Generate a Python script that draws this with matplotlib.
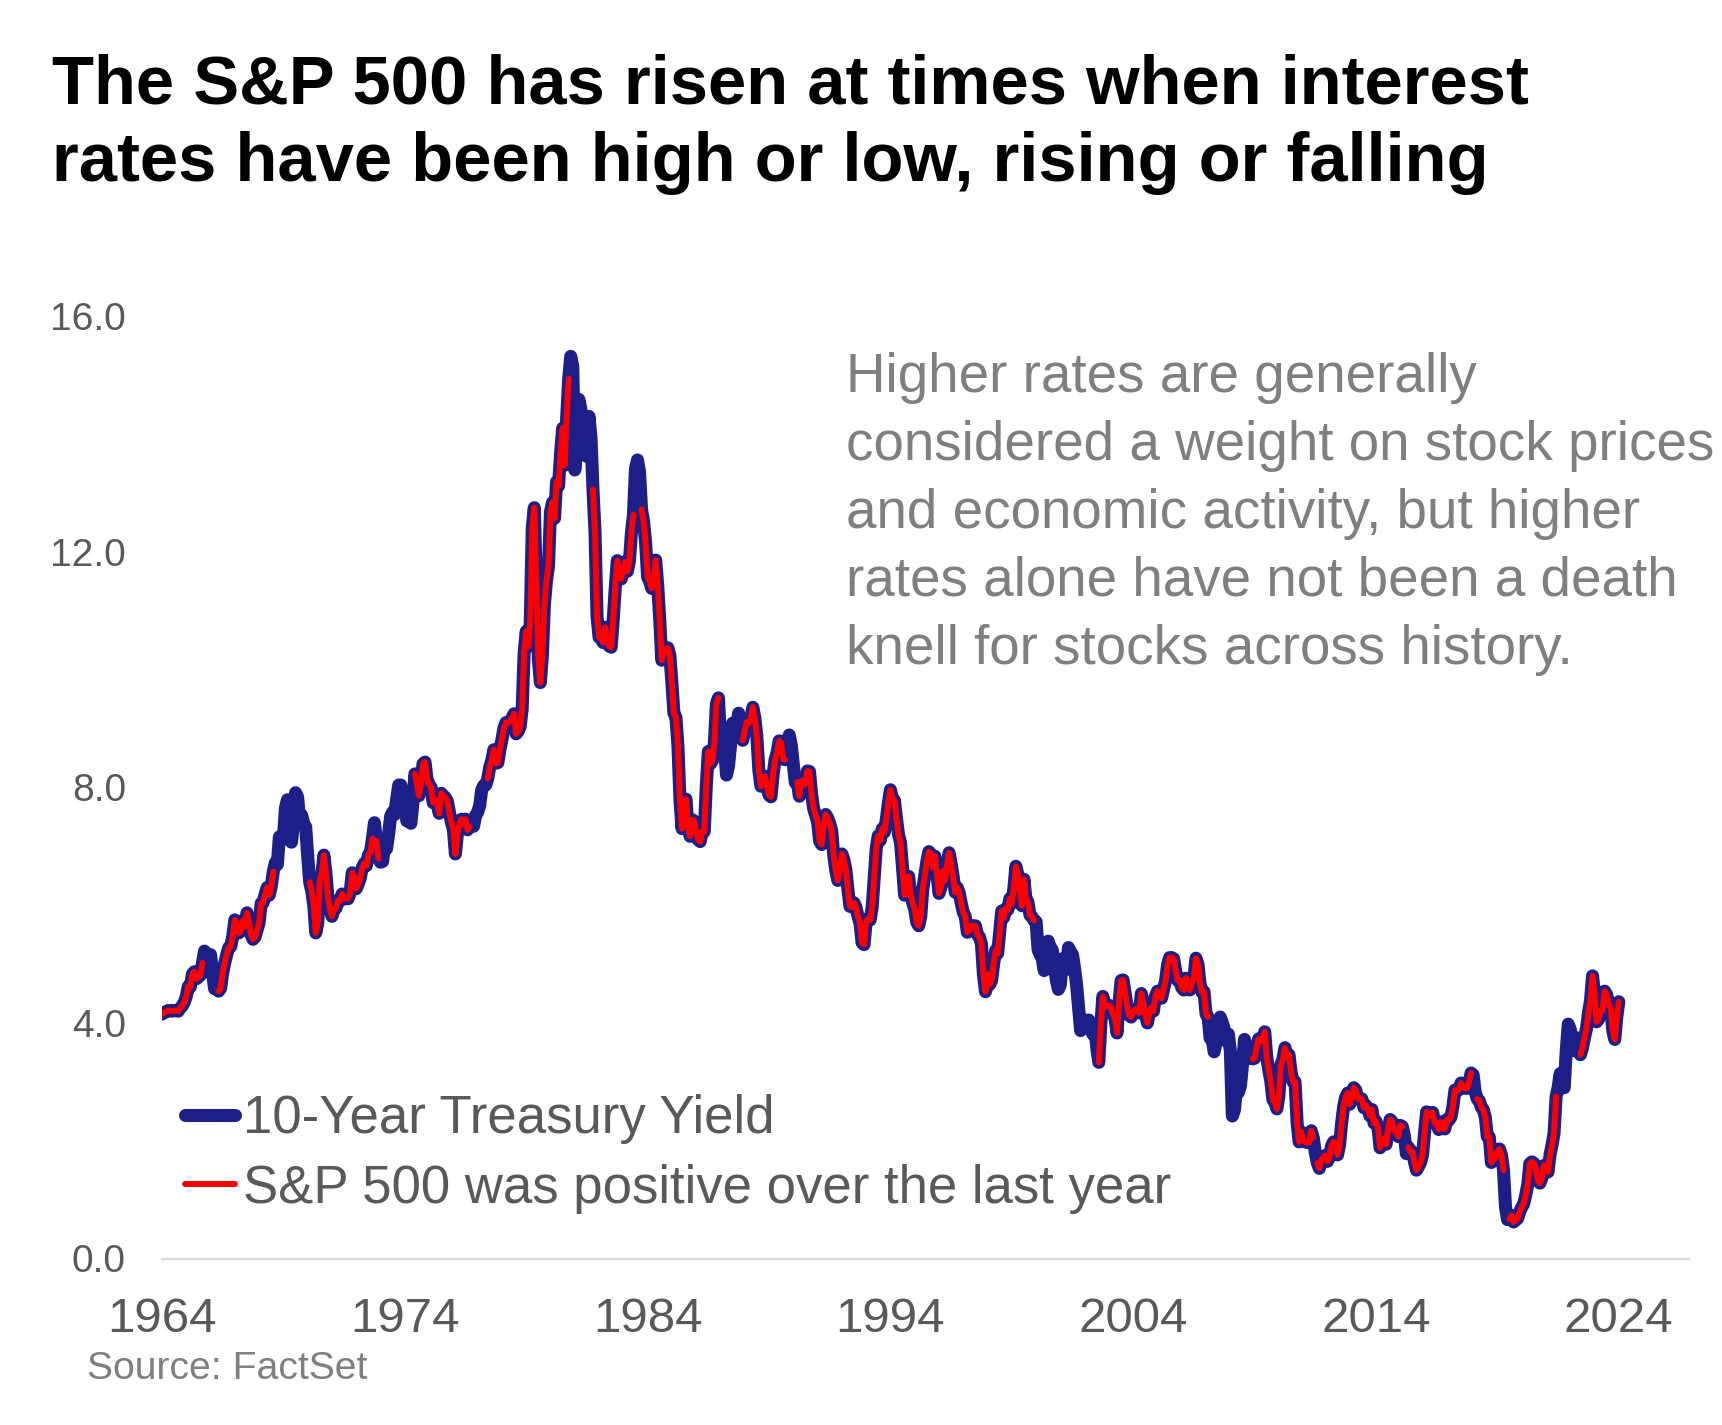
import numpy as np
import pandas as pd
import matplotlib
matplotlib.use("Agg")
import matplotlib.pyplot as plt

plt.rcParams['font.family'] = ['Liberation Sans', 'DejaVu Sans']

# ---------------- data ----------------
title_lines = ["The S&P 500 has risen at times when interest",
               "rates have been high or low, rising or falling"]
note_lines = ["Higher rates are generally",
              "considered a weight on stock prices",
              "and economic activity, but higher",
              "rates alone have not been a death",
              "knell for stocks across history."]
source_text = "Source: FactSet"
series_names = ["10-Year Treasury Yield", "S&P 500 was positive over the last year"]

first_month = "1964-01"          # first monthly point on the chart's axis
treasury_yield = [
    4.15, 4.18,
    4.19, 4.21, 4.21, 4.20, 4.21, 4.21, 4.20, 4.25, 4.29, 4.35, 4.45, 4.62,
    4.61, 4.83, 4.87, 4.75, 4.78, 4.81, 5.02, 5.22, 5.18, 5.01, 5.16, 4.84,
    4.58, 4.63, 4.54, 4.59, 4.85, 5.02, 5.16, 5.28, 5.30, 5.48, 5.75, 5.70,
    5.53, 5.56, 5.74, 5.64, 5.87, 5.72, 5.50, 5.42, 5.46, 5.58, 5.70, 6.03,
    6.04, 6.19, 6.30, 6.17, 6.32, 6.57, 6.72, 6.69, 7.16, 7.10, 7.14, 7.65,
    7.79, 7.24, 7.07, 7.39, 7.91, 7.84, 7.46, 7.53, 7.39, 7.33, 6.84, 6.39,
    6.24, 6.00, 5.53, 5.70, 6.43, 6.53, 6.85, 6.55, 6.14, 5.93, 5.81, 5.93,
    5.95, 6.08, 6.07, 6.19, 6.13, 6.11, 6.11, 6.21, 6.55, 6.48, 6.28, 6.36,
    6.46, 6.64, 6.71, 6.67, 6.85, 6.90, 7.13, 7.40, 7.09, 6.79, 6.73, 6.74,
    6.99, 6.96, 7.21, 7.51, 7.58, 7.54, 7.81, 8.04, 8.04, 7.90, 7.68, 7.43,
    7.50, 7.39, 7.73, 8.23, 8.06, 7.86, 8.06, 8.40, 8.43, 8.14, 8.05, 8.00,
    7.74, 7.79, 7.73, 7.56, 7.90, 7.86, 7.83, 7.77, 7.59, 7.41, 7.29, 6.87,
    7.21, 7.39, 7.46, 7.37, 7.46, 7.28, 7.33, 7.40, 7.34, 7.52, 7.58, 7.69,
    7.96, 8.03, 8.04, 8.15, 8.35, 8.46, 8.64, 8.41, 8.42, 8.64, 8.81, 9.01,
    9.10, 9.10, 9.12, 9.18, 9.25, 8.91, 8.95, 9.03, 9.33, 10.30, 10.65, 10.39,
    10.80, 12.41, 12.75, 11.47, 10.18, 9.78, 10.25, 11.10, 11.51, 11.75, 12.68, 12.84,
    12.57, 13.19, 13.12, 13.68, 14.10, 13.47, 14.28, 14.94, 15.32, 15.15, 13.39, 13.72,
    14.59, 14.43, 13.86, 13.87, 13.62, 14.30, 13.95, 13.06, 12.34, 10.91, 10.55, 10.54,
    10.46, 10.72, 10.51, 10.40, 10.38, 10.85, 11.38, 11.85, 11.65, 11.54, 11.69, 11.83,
    11.67, 11.84, 12.32, 12.63, 13.41, 13.56, 13.36, 12.72, 12.52, 12.16, 11.57, 11.50,
    11.38, 11.51, 11.86, 11.43, 10.85, 10.16, 10.31, 10.33, 10.37, 10.24, 9.78, 9.26,
    9.19, 8.70, 7.78, 7.30, 7.71, 7.80, 7.30, 7.17, 7.45, 7.43, 7.25, 7.11,
    7.08, 7.25, 7.25, 8.02, 8.61, 8.40, 8.45, 8.76, 9.42, 9.52, 8.86, 8.99,
    8.67, 8.21, 8.37, 8.72, 9.09, 8.92, 9.06, 9.26, 8.98, 8.80, 8.96, 9.11,
    9.09, 9.17, 9.36, 9.18, 8.86, 8.28, 8.02, 8.11, 8.19, 8.01, 7.87, 7.84,
    8.21, 8.47, 8.59, 8.79, 8.76, 8.48, 8.47, 8.75, 8.89, 8.72, 8.39, 8.08,
    8.09, 7.85, 8.11, 8.04, 8.07, 8.28, 8.27, 7.90, 7.65, 7.53, 7.42, 7.09,
    7.03, 7.34, 7.54, 7.48, 7.39, 7.26, 6.84, 6.59, 6.42, 6.59, 6.87, 6.77,
    6.60, 6.26, 5.98, 5.97, 6.04, 5.96, 5.81, 5.68, 5.36, 5.33, 5.72, 5.77,
    5.75, 5.97, 6.48, 6.97, 7.18, 7.10, 7.30, 7.24, 7.46, 7.74, 7.96, 7.81,
    7.78, 7.47, 7.20, 7.06, 6.63, 6.17, 6.28, 6.49, 6.20, 6.04, 5.93, 5.71,
    5.65, 5.81, 6.27, 6.51, 6.74, 6.91, 6.87, 6.64, 6.83, 6.53, 6.20, 6.30,
    6.58, 6.42, 6.69, 6.89, 6.71, 6.49, 6.22, 6.30, 6.21, 6.03, 5.88, 5.81,
    5.54, 5.57, 5.65, 5.64, 5.65, 5.50, 5.46, 5.34, 4.81, 4.53, 4.83, 4.65,
    4.72, 5.00, 5.23, 5.18, 5.54, 5.90, 5.79, 5.94, 5.92, 6.11, 6.03, 6.28,
    6.66, 6.52, 6.26, 5.99, 6.44, 6.10, 6.05, 5.83, 5.80, 5.74, 5.72, 5.24,
    5.16, 5.10, 4.89, 5.14, 5.39, 5.28, 5.24, 4.97, 4.73, 4.57, 4.65, 5.09,
    5.04, 4.91, 5.28, 5.21, 5.16, 4.93, 4.65, 4.26, 3.87, 3.94, 4.05, 4.03,
    4.05, 3.90, 3.81, 3.96, 3.57, 3.33, 3.98, 4.45, 4.27, 4.29, 4.30, 4.27,
    4.15, 4.08, 3.83, 4.35, 4.72, 4.73, 4.50, 4.28, 4.13, 4.10, 4.19, 4.23,
    4.22, 4.17, 4.50, 4.34, 4.14, 4.00, 4.18, 4.26, 4.20, 4.46, 4.54, 4.47,
    4.42, 4.57, 4.72, 4.99, 5.11, 5.11, 5.09, 4.88, 4.72, 4.73, 4.60, 4.56,
    4.76, 4.72, 4.56, 4.69, 4.75, 5.10, 5.00, 4.67, 4.52, 4.53, 4.15, 4.10,
    3.74, 3.74, 3.51, 3.68, 3.88, 4.10, 4.01, 3.89, 3.69, 3.81, 3.53, 2.42,
    2.52, 2.87, 2.82, 2.93, 3.29, 3.72, 3.56, 3.59, 3.40, 3.39, 3.40, 3.59,
    3.73, 3.69, 3.73, 3.85, 3.42, 3.20, 3.01, 2.70, 2.65, 2.54, 2.76, 3.29,
    3.39, 3.58, 3.41, 3.46, 3.17, 3.00, 3.00, 2.30, 1.98, 2.15, 2.01, 1.98,
    1.97, 1.97, 2.17, 2.05, 1.80, 1.62, 1.53, 1.68, 1.72, 1.75, 1.65, 1.72,
    1.91, 1.98, 1.96, 1.76, 1.93, 2.30, 2.58, 2.74, 2.81, 2.62, 2.72, 2.90,
    2.86, 2.71, 2.72, 2.71, 2.56, 2.60, 2.54, 2.42, 2.53, 2.30, 2.33, 2.21,
    1.88, 1.98, 2.04, 1.94, 2.20, 2.36, 2.32, 2.17, 2.17, 2.07, 2.26, 2.24,
    2.09, 1.78, 1.89, 1.81, 1.81, 1.64, 1.50, 1.56, 1.63, 1.76, 2.14, 2.49,
    2.43, 2.42, 2.48, 2.30, 2.30, 2.19, 2.32, 2.21, 2.20, 2.36, 2.35, 2.40,
    2.58, 2.86, 2.84, 2.87, 2.98, 2.91, 2.89, 2.89, 3.00, 3.15, 3.12, 2.83,
    2.71, 2.68, 2.57, 2.53, 2.40, 2.07, 2.06, 1.63, 1.70, 1.71, 1.81, 1.86,
    1.76, 1.50, 0.87, 0.66, 0.67, 0.73, 0.62, 0.65, 0.68, 0.79, 0.87, 0.93,
    1.08, 1.26, 1.61, 1.64, 1.62, 1.52, 1.32, 1.28, 1.37, 1.58, 1.56, 1.47,
    1.76, 1.93, 2.13, 2.75, 2.90, 3.14, 2.90, 2.90, 3.52, 3.98, 3.89, 3.62,
    3.53, 3.75, 3.66, 3.46, 3.57, 3.75, 3.90, 4.17, 4.38, 4.80, 4.50, 4.02,
    4.06, 4.21, 4.21, 4.54, 4.48, 4.31, 4.25, 3.87, 3.72, 4.10, 4.36,
]

# months (on the chart's axis) in which the S&P 500 was NOT up over the last year
sp500_down_periods = [
    ("1965-10", "1966-04"), ("1968-09", "1970-01"), ("1972-10", "1972-10"),
    ("1973-01", "1974-05"), ("1976-10", "1977-05"), ("1980-11", "1981-09"),
    ("1983-07", "1983-09"), ("1987-01", "1987-11"), ("1989-10", "1990-02"),
    ("2000-01", "2002-07"), ("2007-03", "2008-11"), ("2011-07", "2011-07"),
    ("2015-03", "2015-04"), ("2018-01", "2018-02"), ("2019-05", "2019-06"),
    ("2021-07", "2022-05"),
]

y_ticks = [0, 4, 8, 12, 16]
x_tick_years = [1964, 1974, 1984, 1994, 2004, 2014, 2024]

# ---------------- build series ----------------
months = pd.period_range(first_month, periods=len(treasury_yield), freq="M")
x = np.asarray(months.year + (months.month - 1) / 12.0, dtype=float)
y = np.asarray(treasury_yield, dtype=float)
positive = np.ones(len(y), dtype=bool)
for a, b in sp500_down_periods:
    pa, pb = pd.Period(a, "M"), pd.Period(b, "M")
    positive[(months >= pa) & (months <= pb)] = False
y_red = np.where(positive, y, np.nan)

# ---------------- figure ----------------
W, H = 1722, 1425
fig = plt.figure(figsize=(W / 100, H / 100), dpi=100)
fig.patch.set_facecolor("white")

ax_left, ax_right = 162, 1689
ax_bottom, ax_top = 1258.5, 316.3
ax = fig.add_axes([ax_left / W, 1 - ax_bottom / H,
                   (ax_right - ax_left) / W, (ax_bottom - ax_top) / H])

NAVY = "#1c1f87"
RED = "#ff0000"
GREY_TXT = "#595959"

ax.plot(x, y, color=NAVY, lw=9.4, solid_capstyle="round",
        solid_joinstyle="round", label=series_names[0], zorder=3)
ax.plot(x, y_red, color=RED, lw=4.3, solid_capstyle="round",
        solid_joinstyle="round", label=series_names[1], zorder=4)

ax.set_xlim(1964, 2026.89)
ax.set_ylim(0, 16)
ax.set_xticks(x_tick_years)
ax.set_xticklabels([str(v) for v in x_tick_years])
ax.set_yticks(y_ticks)
ax.set_yticklabels([f"{v:.1f}" for v in y_ticks])

for s in ("left", "top", "right"):
    ax.spines[s].set_visible(False)
ax.spines["bottom"].set_color("#d9d9d9")
ax.spines["bottom"].set_linewidth(1.6)
ax.tick_params(axis="x", length=0, labelsize=35.5, labelcolor=GREY_TXT, pad=28)
ax.tick_params(axis="y", length=0, labelsize=28, labelcolor=GREY_TXT, pad=26)

leg = ax.legend(loc="upper left", bbox_to_anchor=(185 / W, 1 - 1094 / H),
                bbox_transform=fig.transFigure, frameon=False, fontsize=38,
                handlelength=0.95, handletextpad=0.14, labelspacing=0.37,
                borderpad=0, borderaxespad=0, labelcolor=GREY_TXT)

# title
for i, line in enumerate(title_lines):
    fig.text(52 / W, 1 - (104 + 77 * i) / H, line, fontsize=49.5,
             fontweight="bold", color="black", va="baseline", ha="left")

# annotation
for i, line in enumerate(note_lines):
    fig.text(846 / W, 1 - (392 + 67.9 * i) / H, line, fontsize=39.4,
             color="#7f7f7f", va="baseline", ha="left")

fig.text(87 / W, 1 - 1379 / H, source_text, fontsize=28.2, color="#7f7f7f",
         va="baseline", ha="left")

fig.savefig("out.png", dpi=100, facecolor="white")
